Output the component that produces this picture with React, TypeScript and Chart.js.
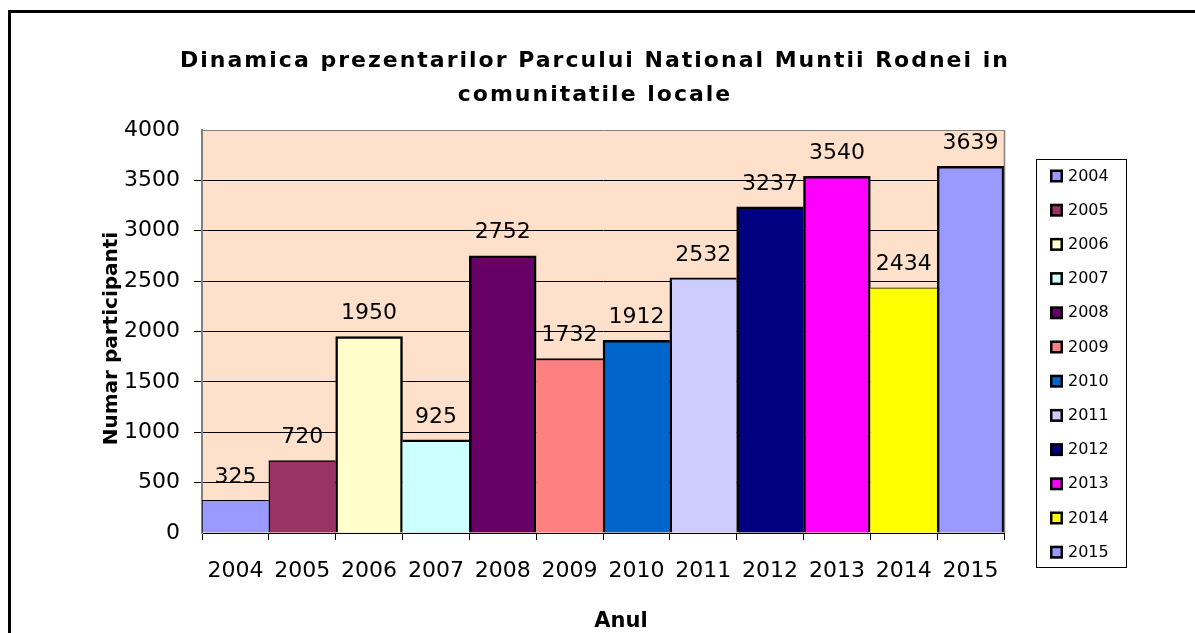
import React, { useEffect, useRef } from 'react';
import { Chart, registerables } from 'chart.js';

Chart.register(...registerables);

const categories = ['2004', '2005', '2006', '2007', '2008', '2009', '2010', '2011', '2012', '2013', '2014', '2015'];
const participants = [325, 720, 1950, 925, 2752, 1732, 1912, 2532, 3237, 3540, 2434, 3639];
const barColors = ['#9999FF', '#993366', '#FFFFCC', '#CCFFFF', '#660066', '#FF8080', '#0066CC', '#CCCCFF', '#000080', '#FF00FF', '#FFFF00', '#9999FF'];
const barEdgeWidths = [1, 1.5, 2.5, 2.5, 2.5, 2, 2.5, 2, 2.5, 2.5, 1, 2.5];

const yMin = 0;
const yMax = 4000;
const yStep = 500;

const titleLines = ['Dinamica prezentarilor Parcului National Muntii Rodnei in', 'comunitatile locale'];
const yAxisTitle = 'Numar participanti';
const xAxisTitle = 'Anul';

const FONT = '"DejaVu Sans", "Liberation Sans", Arial, sans-serif';
const PLOT_BG = '#FFE1CB';

const decorPlugin = {
  id: 'decor',
  beforeDraw(chart: any) {
    const { ctx, chartArea } = chart;
    ctx.save();
    ctx.fillStyle = '#FFFFFF';
    ctx.fillRect(0, 0, chart.width, chart.height);
    ctx.fillStyle = PLOT_BG;
    ctx.fillRect(chartArea.left, chartArea.top, chartArea.right - chartArea.left, chartArea.bottom - chartArea.top);
    ctx.restore();
  },
  afterDatasetsDraw(chart: any) {
    const { ctx, chartArea } = chart;
    ctx.save();
    // right plot border
    ctx.strokeStyle = '#808080';
    ctx.lineWidth = 1.5;
    ctx.beginPath();
    ctx.moveTo(chartArea.right + 0.5, chartArea.top);
    ctx.lineTo(chartArea.right + 0.5, chartArea.bottom);
    ctx.stroke();

    // data labels
    const meta = chart.getDatasetMeta(0);
    ctx.fillStyle = '#000';
    ctx.font = `22px ${FONT}`;
    ctx.textAlign = 'center';
    ctx.textBaseline = 'middle';
    meta.data.forEach((bar: any, i: number) => {
      ctx.fillText(String(participants[i]), bar.x, bar.y - 23);
    });
    ctx.restore();
  },
  afterDraw(chart: any) {
    const { ctx, chartArea } = chart;
    ctx.save();
    // title
    ctx.fillStyle = '#000';
    ctx.font = `bold 22px ${FONT}`;
    ctx.textAlign = 'center';
    ctx.textBaseline = 'alphabetic';
    try {
      (ctx as any).letterSpacing = '2px';
    } catch (e) {}
    ctx.fillText(titleLines[0], 595, 67);
    ctx.fillText(titleLines[1], 595, 101);
    try {
      (ctx as any).letterSpacing = '0px';
    } catch (e) {}

    // x axis title
    ctx.font = `bold 21px ${FONT}`;
    ctx.fillText(xAxisTitle, 621, 627);

    // y axis title
    ctx.save();
    ctx.font = `bold 20px ${FONT}`;
    ctx.translate(112, (chartArea.top + chartArea.bottom) / 2 + 7);
    ctx.rotate(-Math.PI / 2);
    ctx.textBaseline = 'middle';
    ctx.fillText(yAxisTitle, 0, 0);
    ctx.restore();

    // legend
    const lx = 1036, ly = 159, lw = 90, lh = 408;
    ctx.strokeStyle = '#000';
    ctx.lineWidth = 1;
    ctx.strokeRect(lx + 0.5, ly + 0.5, lw, lh);
    ctx.font = `16px ${FONT}`;
    ctx.textAlign = 'left';
    ctx.textBaseline = 'middle';
    categories.forEach((cat, i) => {
      const cy = 176 + i * 34.2;
      ctx.fillStyle = '#000';
      ctx.fillRect(1050, cy - 6.5, 13, 13);
      ctx.fillStyle = barColors[i];
      ctx.fillRect(1052.5, cy - 4, 8, 8);
      ctx.fillStyle = '#000';
      ctx.fillText(cat, 1068, cy + 0.5);
    });

    // outer frame (top & left edges visible)
    ctx.fillStyle = '#000';
    ctx.fillRect(8, 10, 3, chart.height);
    ctx.fillRect(8, 10, chart.width, 3);
    ctx.restore();
  },
};

export default function App() {
  const canvasRef = useRef<HTMLCanvasElement | null>(null);

  useEffect(() => {
    document.body.style.margin = '0';
    const canvas = canvasRef.current;
    if (!canvas) return;
    const n = participants.length;
    const chart = new Chart(canvas, {
      type: 'bar',
      data: {
        labels: categories,
        datasets: [
          {
            data: participants,
            backgroundColor: barColors,
            borderColor: '#000000',
            borderSkipped: false,
            borderWidth: (c: any) => {
              const i = c.dataIndex;
              const v = participants;
              const bw = barEdgeWidths[i];
              const left = i === 0 ? bw : v[i] > v[i - 1] ? Math.max(bw, barEdgeWidths[i - 1]) : 0;
              const right = i === n - 1 ? bw : v[i] >= v[i + 1] ? Math.max(bw, barEdgeWidths[i + 1]) : 0;
              return { top: bw, left, right, bottom: 0 };
            },
            categoryPercentage: 1,
            barPercentage: 1,
          } as any,
        ],
      },
      options: {
        responsive: false,
        animation: false,
        devicePixelRatio: 1,
        layout: { padding: { top: 130, right: 191, bottom: 0, left: 0 } },
        plugins: {
          legend: { display: false },
          title: { display: false },
          tooltip: { enabled: false },
        },
        scales: {
          x: {
            type: 'category',
            offset: true,
            grid: {
              offset: true,
              drawOnChartArea: false,
              drawTicks: true,
              tickLength: 7,
              color: '#000000',
            },
            border: { display: true, color: '#000000', width: 1 },
            ticks: {
              color: '#000000',
              font: { family: FONT, size: 22 },
              padding: 18,
              maxRotation: 0,
              autoSkip: false,
            },
            afterFit: (scale: any) => {
              scale.height = 100;
            },
          },
          y: {
            min: yMin,
            max: yMax,
            grid: {
              color: (c: any) => (c.tick && c.tick.value === yMax ? '#808080' : '#000000'),
              tickColor: (c: any) => (c.tick && (c.tick.value === yMax || c.tick.value === yMin) ? 'rgba(0,0,0,0)' : '#000000'),
              tickLength: 8,
              lineWidth: 1,
              drawTicks: true,
            },
            border: { display: true, color: '#808080', width: 2 },
            ticks: {
              stepSize: yStep,
              color: '#000000',
              font: { family: FONT, size: 22 },
              padding: 14,
              callback: (value: any) => String(value),
            },
            afterFit: (scale: any) => {
              scale.width = 202;
            },
          },
        },
      } as any,
      plugins: [decorPlugin],
    });
    return () => chart.destroy();
  }, []);

  return (
    <div style={{ width: 1195, height: 633 }}>
      <canvas ref={canvasRef} width={1195} height={633} style={{ display: 'block' }} />
    </div>
  );
}
